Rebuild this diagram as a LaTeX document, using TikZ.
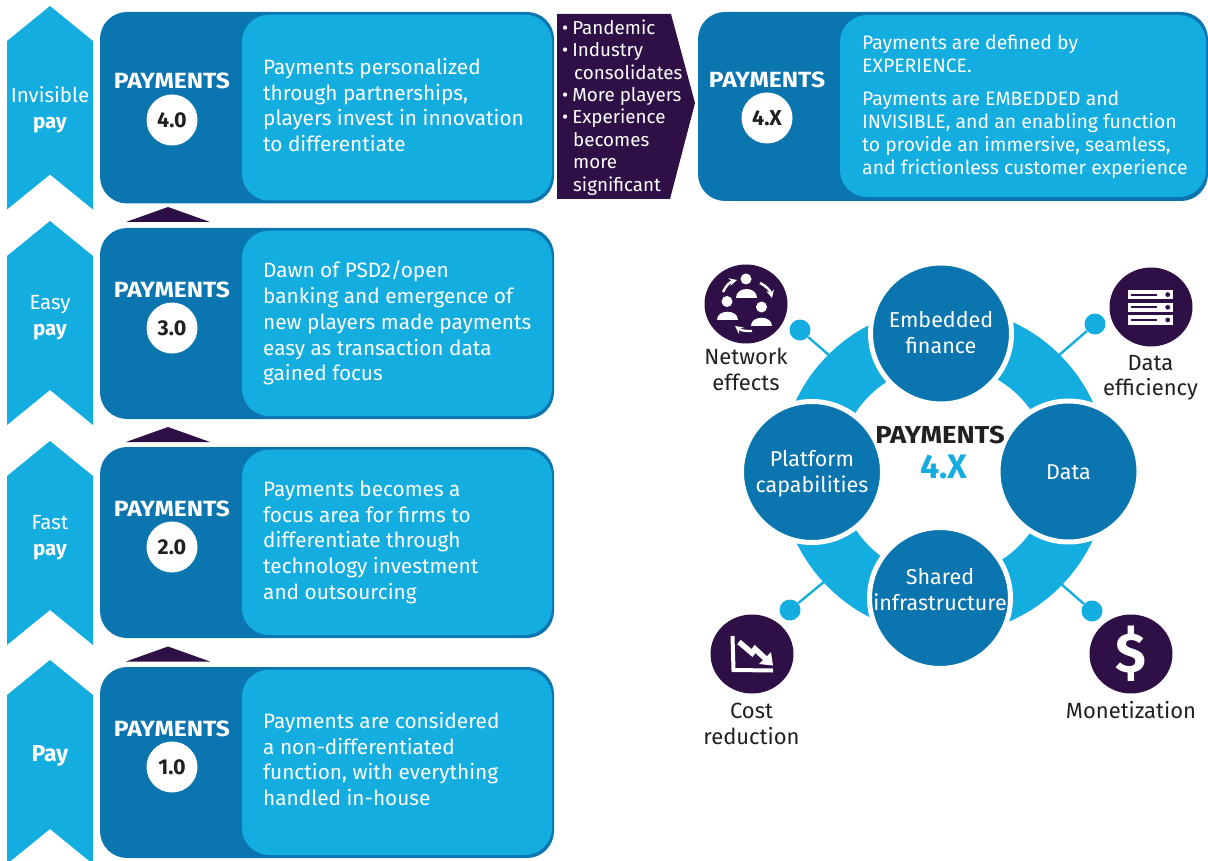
\documentclass[tikz,border=0pt]{standalone}
\usepackage{fontspec}
\setmainfont{Fira Sans}
\newfontfamily\headf[FakeStretch=1.12]{Fira Sans}
\usetikzlibrary{shapes.geometric}
\definecolor{lb}{HTML}{14ADE0}
\definecolor{db}{HTML}{0B75B0}
\definecolor{pu}{HTML}{2E1046}
\definecolor{ink}{HTML}{231F20}
\tikzset{
 x=1pt,y=-1pt,
 chev/.style={fill=lb,draw=none},
 outerbox/.style={fill=db,draw=none,rounded corners=27pt},
 innerbox/.style={fill=lb,draw=none,rounded corners=27pt},
 tri/.style={fill=pu,draw=none},
 side/.style={text=white,font=\fontsize{20.5}{26}\selectfont,align=center,anchor=center},
 head/.style={text=white,font=\fontsize{22}{24}\selectfont\headf\bfseries,anchor=center},
 badge/.style={circle,fill=white,minimum size=51pt,inner sep=0pt,text=ink,font=\fontsize{21.5}{24}\selectfont\bfseries},
 body/.style={text=white,font=\fontsize{20.8}{25.7}\selectfont,align=left,anchor=north west,inner sep=0pt},
 bodyb/.style={text=white,font=\fontsize{19.4}{23}\selectfont,align=left,anchor=north west,inner sep=0pt},
 hub/.style={circle,fill=db,draw=white,line width=5pt,minimum size=141pt,inner sep=0pt},
 hublab/.style={text=white,align=center,font=\fontsize{21.5}{26}\selectfont},
 iconc/.style={ellipse,fill=pu,minimum width=83pt,minimum height=79pt,inner sep=0pt},
 dot/.style={circle,fill=lb,minimum size=21pt,inner sep=0pt},
 stem/.style={draw=lb,line width=2.4pt},
 lab/.style={text=ink,align=center,font=\fontsize{22}{25.5}\selectfont},
 person/.style={fill=white,draw=none},
}
\newcommand{\chevron}[2]{% top y, bottom y
 \fill[chev] (50,#1) -- (93,#1+35) -- (93,#2) -- (50,#2-35) -- (7,#2) -- (7,#1+35) -- cycle;}
\newcommand{\paybox}[6]{% top, bottom, badge text, name, head y, badge y
 \fill[outerbox] (100,#1) rectangle (554,#2);
 \fill[innerbox] (242,#1+2.7) rectangle (552,#2-3);
 \node[head] (h#4) at (172,#5) {PAYMENTS};
 \node[badge] (b#4) at (172,#6) {#3};}
\newcommand{\pers}[2]{\fill[person] (#1,#2-9.5) circle (5.5);
 \fill[person] (#1-10.5,#2+9) .. controls (#1-10.5,#2-2) and (#1+10.5,#2-2) .. (#1+10.5,#2+9) -- cycle;}
\begin{document}
\begin{tikzpicture}
\useasboundingbox (0,0) rectangle (1208,861);
% chevrons
\chevron{6}{209.5}
\chevron{221}{425}
\chevron{441}{645}
\chevron{660}{864}
\node[side] (s4) at (50,110) {Invisible\\\textbf{pay}};
\node[side] (s3) at (50,318) {Easy\\\textbf{pay}};
\node[side] (s2) at (50,538) {Fast\\\textbf{pay}};
\node[side,font=\fontsize{23}{26}\selectfont] (s1) at (50,756) {\textbf{Pay}};
% boxes
\paybox{12}{203.5}{4.0}{four}{81}{120}
\paybox{228}{419}{3.0}{three}{290}{328}
\paybox{447}{638}{2.0}{two}{509}{547}
\paybox{667}{858}{1.0}{one}{729}{767}
\node[body] (t4) at (263,58) {Payments personalized\\through partnerships,\\players invest in innovation\\to differentiate};
\node[body] (t3) at (263,261) {Dawn of PSD2/open\\banking and emergence of\\new players made payments\\easy as transaction data\\gained focus};
\node[body] (t2) at (263,480.5) {Payments becomes a\\focus area for firms to\\differentiate through\\technology investment\\and outsourcing};
\node[body] (t1) at (263,712) {Payments are considered\\a non-differentiated\\function, with everything\\handled in-house};
% triangles
\fill[tri] (126,222) -- (168,207) -- (210,222) -- cycle;
\fill[tri] (126,442) -- (168,427) -- (210,442) -- cycle;
\fill[tri] (126,661.5) -- (168,646.5) -- (210,661.5) -- cycle;
% pentagon
\fill[pu] (557,14) -- (671,14) -- (695,103) -- (670,199) -- (557,199) -- cycle;
\node[text=white,font=\fontsize{18.8}{22.4}\selectfont,align=left,anchor=north west,inner sep=0pt] (bul) at (562,19.5) {•\hspace{4pt}Pandemic\\•\hspace{4pt}Industry\\\hspace*{12pt}consolidates\\•\hspace{4pt}More players\\•\hspace{4pt}Experience\\\hspace*{11pt}becomes\\\hspace*{11pt}more\\\hspace*{11pt}significant};
% 4.X box
\fill[outerbox] (698,12) rectangle (1208,201);
\fill[innerbox] (840,15) rectangle (1206,197);
\node[head] (hx) at (767,80) {PAYMENTS};
\node[badge] (bx) at (767,118) {4.X};
\node[bodyb] (tx1) at (862,35) {Payments are defined by\\EXPERIENCE.};
\node[bodyb] (tx2) at (862,90.5) {Payments are EMBEDDED and\\INVISIBLE, and an enabling function\\to provide an immersive, seamless,\\and frictionless customer experience};
% ring
\fill[lb,even odd rule] (944,471) circle (164) (944,471) circle (106);
% dots and stems
\node[dot] (d1) at (800,330) {};
\node[dot] (d2) at (1095,324) {};
\node[dot] (d3) at (790,610) {};
\node[dot] (d4) at (1092,611) {};
\coordinate (e1) at (830,356);
\coordinate (e2) at (1058,356);
\coordinate (e3) at (825,581);
\coordinate (e4) at (1060,583);
\draw[stem] (d1) -- (e1);
\draw[stem] (d2) -- (e2);
\draw[stem] (d3) -- (e3);
\draw[stem] (d4) -- (e4);
% hubs
\node[hub] (ef) at (941,333.5) {};
\node[hub] (da) at (1068.5,471.5) {};
\node[hub] (pc) at (812,472) {};
\node[hub] (si) at (940,598) {};
\node[hublab] (efl) at (941,332.5) {Embedded\\finance};
\node[hublab] (dal) at (1068.5,472.5) {Data};
\node[hublab] (pcl) at (812,474) {Platform\\capabilities};
\node[hublab] (sil) at (940,589.5) {Shared\\infrastructure};
\node[text=ink,font=\fontsize{24.5}{26}\selectfont\headf\bfseries] (cn) at (940,435) {PAYMENTS};
\node[text=lb,font=\fontsize{34}{36}\selectfont\bfseries] (cx) at (944,467) {4.X};
% icons
\node[iconc] (i1) at (746,304) {};
\node[iconc] (i2) at (1151,307) {};
\node[iconc] (i3) at (752,654) {};
\node[iconc] (i4) at (1131,654) {};
\node[lab] (l1) at (746,369.5) {Network\\effects};
\node[lab] (l2) at (1150.5,378) {Data\\efficiency};
\node[lab] (l3) at (751.5,724) {Cost\\reduction};
\node[lab] (l4) at (1131,710.5) {Monetization};
% network icon
\pers{746}{288.5}
\pers{727}{311}
\pers{761.5}{316.5}
\draw[white,line width=2.4pt,-stealth] (723,292) to[bend left=25] (737,280);
\draw[white,line width=2.4pt,-stealth] (760,283) to[bend left=25] (772,298);
\draw[white,line width=2.4pt,-stealth] (752,331) to[bend left=20] (735,326);
% data icon
\foreach \yy in {290,302.7,315.3}{
 \fill[white] (1127.5,\yy) rectangle (1172.5,\yy+9.3);
 \fill[pu] (1131,\yy+3.6) rectangle (1156.5,\yy+5.6);
 \fill[pu] (1167.7,\yy+4.6) circle (2.4);}
% cost icon
\draw[white,line width=4pt] (732.5,636) -- (733.5,670) -- (773,670.5);
\draw[white,line width=5.5pt] (739,642) -- (752,653) -- (755,649) -- (768,661);
\fill[white] (759,664) -- (773,665.5) -- (771,652) -- cycle;
% dollar
\node[text=white,font=\fontsize{56}{60}\selectfont\bfseries] (dollar) at (1130.5,654) {\$};
\end{tikzpicture}
\end{document}
